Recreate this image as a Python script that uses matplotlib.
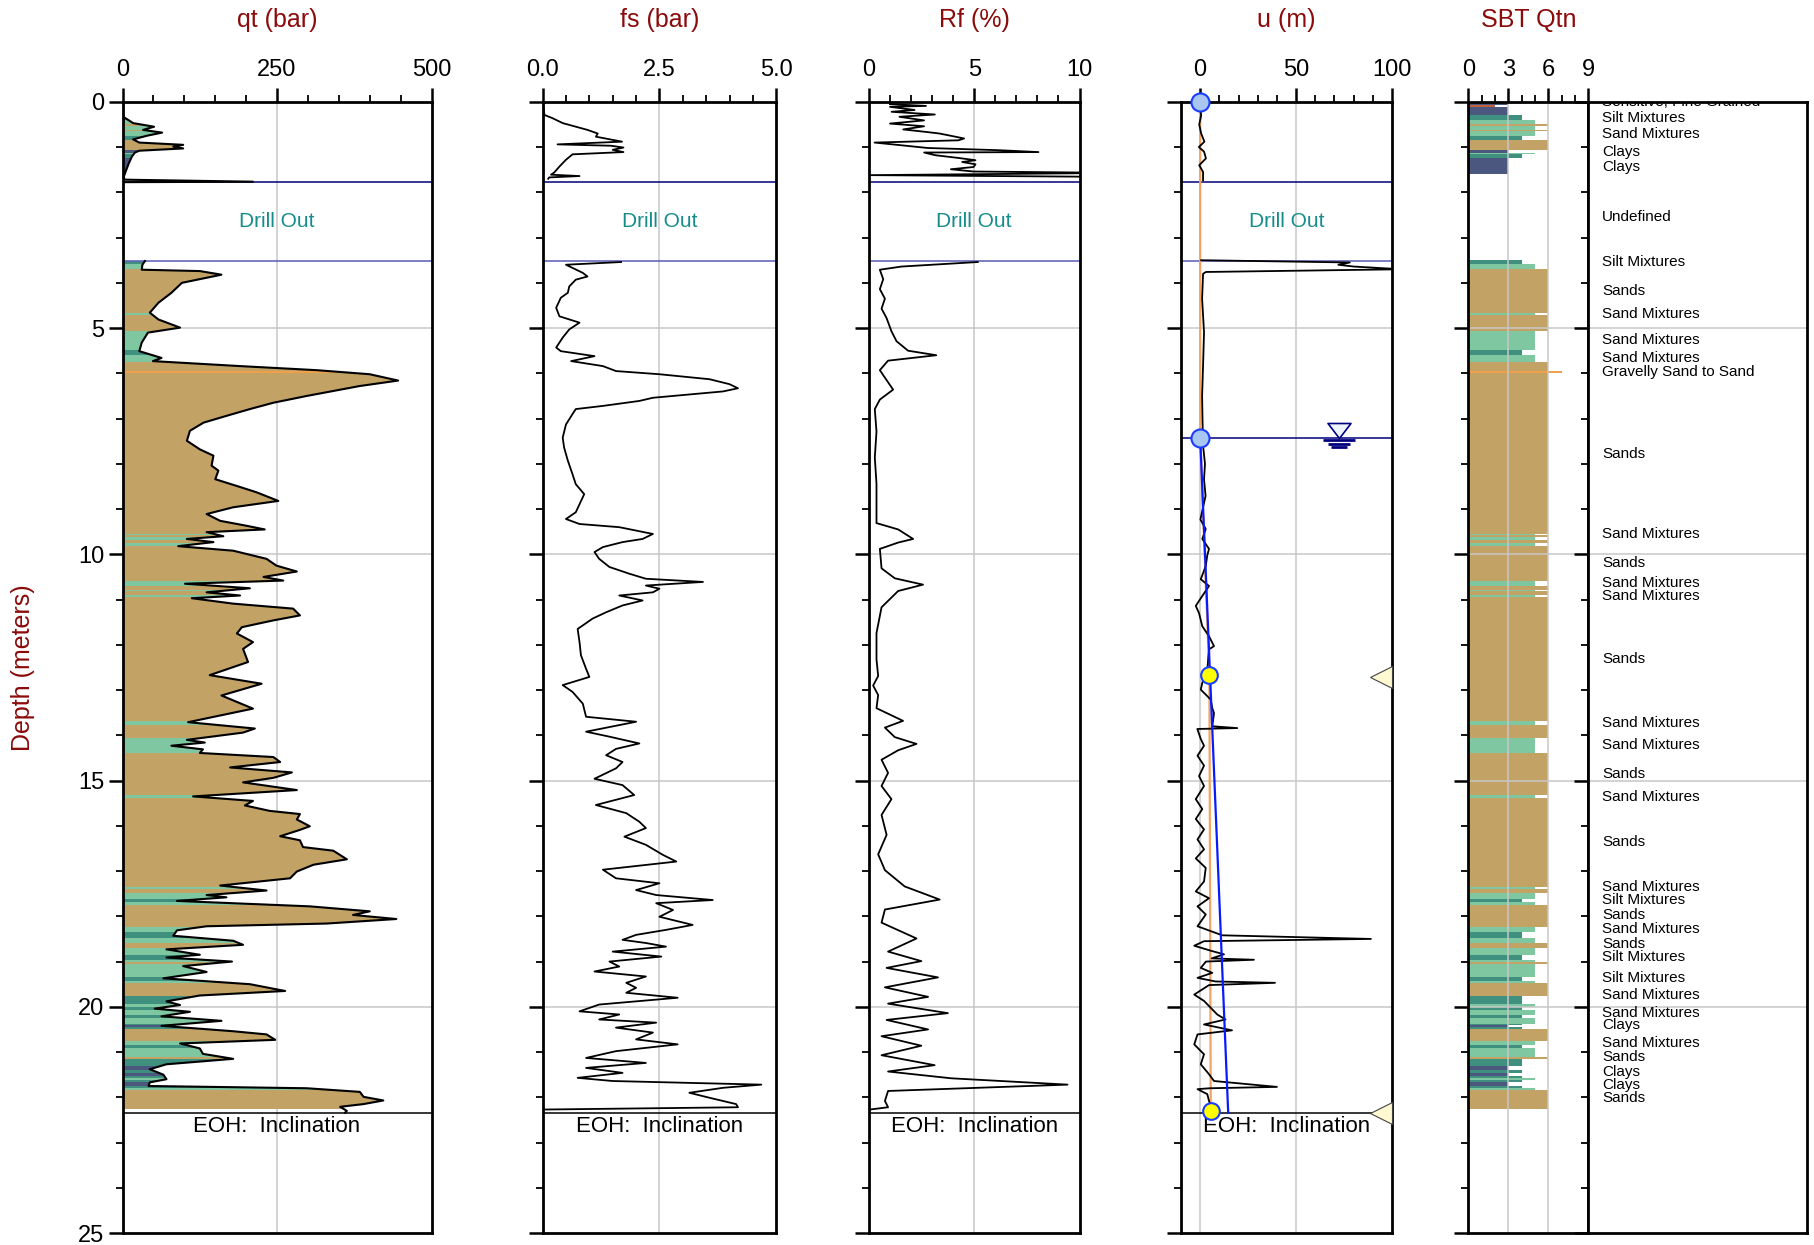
import numpy as np
import matplotlib
matplotlib.use('Agg')
import matplotlib.pyplot as plt
from matplotlib.path import Path
from matplotlib.ticker import FixedLocator, MultipleLocator, FormatStrFormatter

plt.rcParams['font.family'] = ['Liberation Sans', 'DejaVu Sans']

nan = np.nan

# ---- cone resistance qt (bar) vs depth (m); nan = drill-out gap
qt_depth = [0.00, 0.33, 0.47, 0.55, 0.62, 0.68, 0.75, 0.83, 0.90, 0.95, 0.99, 1.03, 1.08, 1.12, 1.21, 1.36,
            1.50, 1.65, 1.72, 1.765, 1.775, nan,
            3.52, 3.60, 3.71, 3.74, 3.82, 4.00, 4.22, 4.44, 4.66, 4.81, 4.99, 5.10, 5.32, 5.51, 5.66, 5.73,
            5.84, 5.93, 6.02, 6.16, 6.28, 6.39, 6.50, 6.65, 6.79, 6.94, 7.09, 7.27, 7.49, 7.68, 7.82, 8.04,
            8.15, 8.34, 8.49, 8.63, 8.82, 8.96, 9.11, 9.26, 9.37, 9.45, 9.51, 9.60, 9.66, 9.73, 9.82, 9.92,
            10.10, 10.25, 10.38, 10.50, 10.58, 10.65, 10.75, 10.84, 10.91, 10.97, 11.09, 11.20, 11.35, 11.46,
            11.61, 11.75, 11.94, 12.09, 12.38, 12.67, 12.86, 13.12, 13.41, 13.71, 13.85, 13.94, 14.10, 14.16,
            14.23, 14.31, 14.39, 14.48, 14.59, 14.71, 14.82, 14.94, 15.04, 15.21, 15.35, 15.45, 15.55, 15.67,
            15.74, 15.86, 16.01, 16.09, 16.23, 16.32, 16.47, 16.55, 16.74, 16.86, 17.01, 17.16, 17.32, 17.43,
            17.53, 17.58, 17.66, 17.78, 17.89, 17.97, 18.06, 18.16, 18.22, 18.31, 18.43, 18.54, 18.63, 18.73,
            18.85, 18.91, 19.00, 19.10, 19.23, 19.37, 19.50, 19.65, 19.75, 19.88, 19.96, 20.04, 20.11, 20.21,
            20.31, 20.42, 20.54, 20.61, 20.73, 20.81, 20.92, 21.04, 21.15, 21.27, 21.38, 21.50, 21.60, 21.67,
            21.75, 21.80, 21.88, 21.99, 22.07, 22.15, 22.21, 22.30, 22.34]
qt_value = [0, 1, 17, 51, 33, 64, 39, 17, 27, 98, 82, 98, 27, 20, 15, 10,
            6, 2, 3, 211, 3, nan,
            36, 32, 31, 125, 160, 96, 79, 58, 44, 58, 93, 41, 31, 27, 63, 49,
            190, 314, 400, 446, 384, 341, 298, 244, 206, 168, 131, 109, 104, 125, 147, 144,
            155, 150, 185, 217, 252, 179, 136, 158, 201, 230, 136, 163, 104, 147, 90, 179,
            233, 249, 282, 228, 260, 101, 206, 136, 190, 112, 179, 276, 287, 244,
            193, 185, 211, 195, 203, 141, 225, 160, 211, 106, 214, 195, 104, 133,
            79, 130, 125, 244, 255, 174, 274, 244, 195, 282, 114, 211, 198, 238,
            287, 282, 303, 287, 255, 287, 292, 341, 363, 309, 282, 271, 158, 233,
            136, 168, 88, 303, 400, 373, 443, 330, 136, 88, 82, 179, 195, 71,
            125, 71, 177, 98, 136, 66, 206, 263, 125, 71, 93, 52, 109, 63,
            160, 63, 179, 233, 247, 93, 125, 130, 179, 71, 44, 66, 71, 44,
            42, 298, 384, 390, 422, 390, 352, 363, 360]

# ---- sleeve friction fs (bar)
fs_depth = [0.00, 0.29, 0.36, 0.47, 0.55, 0.62, 0.70, 0.77, 0.84, 0.88, 0.94, 0.97, 1.01, 1.06, 1.11, 1.16,
            1.28, 1.43, 1.56, 1.61, 1.64, 1.67, 1.70, nan,
            3.54, 3.60, 3.67, 3.78, 3.86, 3.93, 4.08, 4.22, 4.33, 4.55, 4.74, 4.88, 5.03, 5.21, 5.43, 5.51,
            5.62, 5.73, 5.84, 5.95, 6.02, 6.13, 6.24, 6.33, 6.40, 6.46, 6.54, 6.61, 6.72, 6.79, 6.90, 7.13,
            7.42, 7.64, 7.93, 8.23, 8.45, 8.67, 8.89, 9.07, 9.22, 9.33, 9.40, 9.55, 9.66, 9.73, 9.84, 9.95,
            10.10, 10.28, 10.43, 10.54, 10.61, 10.69, 10.76, 10.84, 10.91, 11.02, 11.13, 11.28, 11.42, 11.65,
            11.94, 12.23, 12.53, 12.71, 12.89, 13.04, 13.30, 13.59, 13.70, 13.92, 14.03, 14.18, 14.30, 14.44,
            14.59, 14.73, 14.96, 15.10, 15.32, 15.54, 15.72, 15.91, 16.05, 16.24, 16.42, 16.64, 16.79, 16.97,
            17.16, 17.27, 17.42, 17.53, 17.64, 17.71, 17.86, 18.01, 18.19, 18.30, 18.41, 18.52, 18.59, 18.67,
            18.78, 18.89, 19.00, 19.11, 19.22, 19.33, 19.47, 19.58, 19.69, 19.80, 19.95, 20.10, 20.17, 20.28,
            20.35, 20.46, 20.57, 20.72, 20.83, 20.98, 21.13, 21.24, 21.35, 21.46, 21.57, 21.64, 21.72, 21.79,
            21.90, 22.01, 22.15, 22.22, 22.27]
fs_value = [0.0, 0.04, 0.21, 0.43, 0.71, 0.96, 1.18, 1.14, 1.50, 1.70, 0.32, 1.46, 1.73, 1.50, 1.73, 0.64,
            0.50, 0.36, 0.25, 0.18, 0.79, 0.14, 0.12, nan,
            1.68, 0.50, 0.64, 0.86, 0.96, 0.71, 0.57, 0.54, 0.39, 0.29, 0.36, 0.79, 0.57, 0.43, 0.29, 0.39,
            1.11, 0.61, 1.29, 1.57, 2.50, 3.57, 4.00, 4.18, 3.86, 3.21, 2.36, 2.07, 1.29, 0.71, 0.64, 0.50,
            0.43, 0.46, 0.54, 0.64, 0.71, 0.89, 0.79, 0.71, 0.50, 0.79, 1.64, 2.36, 2.14, 1.71, 1.29, 1.11,
            1.21, 1.43, 1.86, 2.21, 3.43, 2.21, 2.50, 2.36, 1.64, 2.14, 1.71, 1.36, 1.07, 0.75,
            0.79, 0.82, 0.93, 1.00, 0.43, 0.64, 0.86, 0.93, 2.00, 0.93, 1.43, 2.07, 1.57, 1.36,
            1.71, 1.57, 1.11, 1.71, 1.96, 1.14, 1.79, 2.07, 2.21, 1.75, 2.21, 2.57, 2.86, 1.29,
            1.57, 2.50, 2.00, 2.43, 3.64, 2.43, 2.79, 2.50, 3.21, 2.64, 2.00, 1.71, 2.21, 2.64,
            1.50, 2.54, 1.43, 1.64, 1.11, 2.21, 1.79, 2.00, 1.79, 2.89, 1.21, 0.79, 1.64, 1.21,
            2.43, 1.57, 2.36, 2.00, 2.89, 1.57, 0.93, 2.21, 0.93, 1.71, 0.75, 1.50, 4.68, 3.86,
            3.14, 3.57, 4.14, 4.18, 0.05]

# ---- friction ratio Rf (%)
rf_depth = [0.05, 0.09, 0.11, 0.18, 0.22, 0.28, 0.33, 0.41, 0.48, 0.54, 0.61, 0.66, 0.70, 0.75, 0.81, 0.85,
            0.90, 0.96, 1.02, 1.07, 1.11, 1.12, 1.18, 1.24, 1.29, 1.33, 1.38, 1.44, 1.49, 1.54, 1.57, 1.62,
            1.66, nan,
            3.54, 3.64, 3.71, 3.92, 4.14, 4.35, 4.57, 4.78, 5.07, 5.29, 5.50, 5.60, 5.72, 5.93, 6.15, 6.36,
            6.58, 6.79, 7.29, 7.86, 8.44, 9.02, 9.31, 9.45, 9.66, 9.74, 9.88, 10.31, 10.53, 10.67, 10.81,
            11.17, 11.74, 12.32, 12.69, 12.90, 13.11, 13.40, 13.68, 13.83, 14.04, 14.19, 14.33, 14.54, 14.83,
            15.12, 15.41, 15.76, 16.20, 16.63, 16.98, 17.34, 17.63, 17.85, 18.14, 18.49, 18.78, 18.99, 19.14,
            19.35, 19.57, 19.78, 19.93, 20.14, 20.29, 20.50, 20.65, 20.86, 21.07, 21.29, 21.43, 21.58, 21.72,
            21.86, 22.08, 22.22, 22.27]
rf_value = [1.0, 2.71, 1.0, 2.17, 1.08, 3.13, 1.45, 2.62, 1.0, 2.62, 1.63, 2.62, 3.35, 3.89, 4.52, 4.25,
            0.27, 1.54, 2.80, 6.24, 8.05, 2.62, 3.16, 4.25, 5.06, 4.43, 5.06, 4.97, 3.89, 4.97, 12.0, 0.09,
            12.0, nan,
            5.17, 1.55, 0.52, 0.68, 0.52, 0.76, 0.60, 0.84, 1.07, 1.31, 1.86, 3.20, 0.91, 0.52, 0.84, 1.15,
            0.52, 0.28, 0.36, 0.28, 0.36, 0.36, 0.36, 1.39, 2.10, 1.39, 0.52, 0.60, 1.23, 2.57, 1.39,
            0.60, 0.36, 0.36, 0.44, 0.20, 0.44, 0.36, 1.62, 0.76, 1.23, 2.26, 1.39, 0.60, 0.91,
            0.60, 1.07, 0.60, 0.84, 0.44, 0.76, 1.70, 3.36, 0.76, 0.60, 2.26, 0.91, 2.49, 0.84,
            3.28, 0.76, 2.81, 0.91, 3.75, 0.84, 2.81, 0.60, 2.49, 0.60, 3.12, 0.91, 3.91, 9.43,
            0.91, 0.76, 0.91, 0.05]

# ---- pore pressure u (m)
u_depth = [0.15, 0.30, 0.50, 0.70, 0.88, 1.00, 1.10, 1.25, 1.40, 1.55, 1.73, nan,
           3.50, 3.55, 3.60, 3.64, 3.70, 3.76, 3.80, 4.35, 5.09, 5.83, 6.50, 7.00, 7.60, 8.00, 8.34, 8.71,
           9.23, 9.44, 9.66, 9.88, 10.02, 10.26, 10.55, 10.70, 10.92, 11.14, 11.30, 11.59, 11.81, 12.03,
           12.10, 12.55, 12.84, 12.99, 13.21, 13.40, 13.51, 13.80, 13.84, 13.86, 14.08, 14.23, 14.45, 14.67,
           14.90, 15.12, 15.41, 15.63, 15.85, 16.08, 16.30, 16.52, 16.72, 16.93, 17.23, 17.45, 17.60, 17.78,
           17.96, 18.22, 18.42, 18.50, 18.55, 18.65, 18.76, 18.84, 18.93, 18.96, 19.00, 19.14, 19.25, 19.36,
           19.44, 19.47, 19.52, 19.73, 19.87, 20.17, 20.28, 20.39, 20.52, 20.61, 20.83, 21.05, 21.27, 21.49,
           21.64, 21.77, 21.80, 21.82, 21.93, 22.08, 22.19, 22.25]
u_value = [0.0, 0.5, -0.5, 0.5, 2.2, -0.7, 2.0, 3.0, -0.5, 1.5, 1.5, nan,
           0.5, 78, 72, 80, 105, 3.0, 1.5, 1.0, 2.0, 1.5, 1.0, 1.2, 1.5, 2.5, 2.0, 2.8,
           0.1, 2.9, 1.1, 4.6, 3.7, 2.9, 0.3, 4.6, 1.1, -2.3, -0.6, 1.1, 4.6, 7.2,
           4.6, 3.7, 1.1, 0.3, 5.5, 6.3, 7.2, 6.3, 19.3, -1.5, 0.3, 2.0, -1.4, 2.0,
           -0.6, 2.0, -2.3, 1.1, -2.3, 2.0, -1.4, 2.0, -2.3, 2.9, 2.0, -2.3, 4.6, -1.4,
           2.9, -1.4, 11.5, 89, 2.0, -3.1, 5.5, 12.4, 6.0, 28, 3.0, 0.3, 6.3, -1.4,
           8.0, 39, 4.6, -3.1, 2.0, 8.9, 13.2, 2.0, 16.6, -1.4, -3.1, 2.0, 0.3, 4.6,
           7.2, 40, 5.0, -1.4, 3.7, 4.6, 5.5, 6.0]

# equilibrium / hydrostatic pore pressure lines
ueq_depth = [0.0, 7.42, 12.67, 22.30]
ueq_value = [0.0, 0.0, 4.8, 5.5]
hydro_depth = [7.42, 22.34]
hydro_value = [0.0, 14.6]
water_table = 7.42
dissipation_depth = [12.67, 22.30]
dissipation_u = [4.6, 5.5]
dissipation_marks = [12.72, 22.35]

# ---- drill out and end of hole
drill_top, drill_base = 1.78, 3.52
eoh_depth = 22.34

# ---- SBT Qtn layers
sbt_top = [0.00, 0.08, 0.11, 0.30, 0.41, 0.48, 0.54, 0.63, 0.65, 0.75, 0.85, 1.07, 1.12, 1.16, 1.25,
           3.50, 3.59, 3.69, 4.67, 4.72, 5.07, 5.48, 5.60, 5.74, 5.94,
           5.99, 9.55, 9.57, 9.61, 9.68, 9.74, 9.82, 10.60, 10.70, 10.78,
           10.82, 10.91, 10.95, 13.68, 13.77, 14.06, 14.38, 15.33, 15.38, 17.35,
           17.39, 17.48, 17.61, 17.68, 17.74, 18.24, 18.35, 18.49, 18.59, 18.70,
           18.86, 18.96, 19.01, 19.05, 19.34, 19.43, 19.47, 19.76, 19.93, 20.00,
           20.08, 20.18, 20.25, 20.37, 20.40, 20.44, 20.50, 20.76, 20.85, 20.91,
           21.10, 21.16, 21.31, 21.40, 21.46, 21.53, 21.58, 21.61, 21.67, 21.76,
           21.80, 21.83]
sbt_base = [0.08, 0.11, 0.30, 0.41, 0.48, 0.54, 0.63, 0.65, 0.75, 0.85, 1.07, 1.12, 1.16, 1.25, 1.59,
            3.59, 3.69, 4.67, 4.72, 5.07, 5.48, 5.60, 5.74, 5.94, 5.99,
            9.55, 9.57, 9.61, 9.68, 9.74, 9.82, 10.60, 10.70, 10.78, 10.82,
            10.91, 10.95, 13.68, 13.77, 14.06, 14.38, 15.33, 15.38, 17.35, 17.39,
            17.48, 17.61, 17.68, 17.74, 18.24, 18.35, 18.49, 18.59, 18.70, 18.86,
            18.96, 19.01, 19.05, 19.34, 19.43, 19.47, 19.76, 19.93, 20.00, 20.08,
            20.18, 20.25, 20.37, 20.40, 20.44, 20.50, 20.76, 20.85, 20.91, 21.10,
            21.16, 21.31, 21.40, 21.46, 21.53, 21.58, 21.61, 21.67, 21.76, 21.80,
            21.83, 22.26]
sbt_zone = [3, 2, 3, 4, 5, 6, 5, 6, 5, 4, 6, 3, 5, 4, 3,
            4, 5, 6, 5, 6, 5, 4, 5, 6, 7,
            6, 5, 6, 5, 6, 5, 6, 5, 6, 5,
            6, 5, 6, 5, 6, 5, 6, 5, 6, 5,
            6, 5, 4, 5, 6, 5, 4, 5, 6, 5,
            4, 5, 6, 5, 4, 5, 6, 4, 5, 4,
            5, 4, 5, 4, 3, 4, 6, 5, 4, 5,
            6, 4, 3, 4, 3, 4, 5, 4, 3, 4,
            5, 6]

sbt_label_depth = [0.0, 0.36, 0.71, 1.10, 1.43, 2.55, 3.55, 4.18, 4.69, 5.26, 5.66, 5.97, 7.78, 9.54,
                   10.20, 10.64, 10.92, 12.32, 13.72, 14.21, 14.85, 15.36, 16.35, 17.35, 17.63, 17.96,
                   18.27, 18.62, 18.90, 19.36, 19.74, 20.13, 20.41, 20.79, 21.12, 21.45, 21.73, 22.02]
sbt_label_text = ['Sensitive, Fine Grained', 'Silt Mixtures', 'Sand Mixtures', 'Clays', 'Clays', 'Undefined',
                  'Silt Mixtures', 'Sands', 'Sand Mixtures', 'Sand Mixtures', 'Sand Mixtures',
                  'Gravelly Sand to Sand', 'Sands', 'Sand Mixtures', 'Sands', 'Sand Mixtures',
                  'Sand Mixtures', 'Sands', 'Sand Mixtures', 'Sand Mixtures', 'Sands', 'Sand Mixtures',
                  'Sands', 'Sand Mixtures', 'Silt Mixtures', 'Sands', 'Sand Mixtures', 'Sands',
                  'Silt Mixtures', 'Silt Mixtures', 'Sand Mixtures', 'Sand Mixtures', 'Clays',
                  'Sand Mixtures', 'Sands', 'Clays', 'Clays', 'Sands']

SBT_COLORS = {2: '#c0603c', 3: '#4b577f', 4: '#40907f', 5: '#7fc7a1', 6: '#c2a365', 7: '#f0a04b'}
GRID = '#c8c8c8'
TITLE = '#8b0a0a'
TEAL = '#168c8c'

fig = plt.figure(figsize=(18.14, 12.45), dpi=100)
BOT, HGT = 0.0096, 0.9086
ax_qt = fig.add_axes([0.06759, BOT, 0.17029, HGT])
ax_fs = fig.add_axes([0.29912, BOT, 0.12883, HGT])
ax_rf = fig.add_axes([0.47900, BOT, 0.11610, HGT])
ax_u = fig.add_axes([0.65105, BOT, 0.11632, HGT])
ax_sbt = fig.add_axes([0.80943, BOT, 0.06615, HGT])
ax_lb = fig.add_axes([0.87558, BOT, 0.12040, HGT])


def setup(ax, xlim, major, minor, grid_x, title, fmt=None):
    ax.set_xlim(*xlim)
    ax.set_ylim(25, 0)
    ax.xaxis.tick_top()
    ax.xaxis.set_major_locator(FixedLocator(major))
    ax.xaxis.set_minor_locator(FixedLocator(minor))
    if fmt:
        ax.xaxis.set_major_formatter(FormatStrFormatter(fmt))
    ax.yaxis.set_major_locator(MultipleLocator(5))
    ax.yaxis.set_minor_locator(MultipleLocator(1))
    ax.tick_params(which='major', direction='out', length=10, width=1.8, labelsize=17, pad=5)
    ax.tick_params(which='minor', direction='out', length=5, width=1.3)
    ax.tick_params(axis='y', labelleft=False)
    for sp in ax.spines.values():
        sp.set_linewidth(2.0)
    for g in grid_x:
        ax.axvline(g, color=GRID, lw=1.1, zorder=0.5)
    for d in (5, 10, 15, 20):
        ax.axhline(d, color=GRID, lw=1.1, zorder=0.5)
    ax.text(0.5, 1.0721, title, transform=ax.transAxes, ha='center', va='center',
            fontsize=18, color=TITLE)


def drill_and_eoh(ax, xmid):
    ax.axhline(drill_top, color='#00007f', lw=1.1, zorder=2)
    ax.axhline(drill_base, color='#5a5ab8', lw=1.1, zorder=2)
    ax.text(xmid, (drill_top + drill_base) / 2, 'Drill Out', ha='center', va='center',
            fontsize=15, color=TEAL)
    ax.axhline(eoh_depth, color='k', lw=1.1, zorder=2)
    ax.text(xmid, eoh_depth + 0.3, 'EOH:  Inclination', ha='center', va='center', fontsize=16)


# qt panel with SBT-coloured fill
setup(ax_qt, (0, 500), [0, 250, 500], np.arange(0, 501, 50), [250], 'qt (bar)')
ax_qt.tick_params(axis='y', labelleft=True, labelsize=17, pad=3)
qt_d = np.array(qt_depth)
qt_v = np.array(qt_value)
fill = ax_qt.fill_betweenx(qt_d, 0, qt_v, facecolor='none', edgecolor='none')
clip = Path.make_compound_path(*fill.get_paths())
for top, base, z in zip(sbt_top, sbt_base, sbt_zone):
    bars = ax_qt.barh((top + base) / 2, 500, height=base - top, left=0,
                      color=SBT_COLORS[z], linewidth=0, zorder=1)
    bars.patches[0].set_clip_path(clip, ax_qt.transData)
ax_qt.plot(qt_v, qt_d, color='k', lw=1.5, zorder=3)
ax_qt.set_xlim(0, 500)
drill_and_eoh(ax_qt, 250)

# fs panel
setup(ax_fs, (0, 5), [0, 2.5, 5], np.arange(0, 5.01, 0.5), [2.5], 'fs (bar)', fmt='%.1f')
ax_fs.plot(fs_value, fs_depth, color='k', lw=1.3, zorder=3)
drill_and_eoh(ax_fs, 2.5)

# Rf panel
setup(ax_rf, (0, 10), [0, 5, 10], np.arange(0, 11, 1), [5], 'Rf (%)')
ax_rf.plot(rf_value, rf_depth, color='k', lw=1.3, zorder=3)
drill_and_eoh(ax_rf, 5)

# u panel
setup(ax_u, (-10, 100), [0, 50, 100], np.arange(0, 101, 10), [0, 50], 'u (m)')
ax_u.plot(ueq_value, ueq_depth, color='#f4a460', lw=1.6, zorder=2.5)
ax_u.plot(u_value, u_depth, color='k', lw=1.3, zorder=3)
ax_u.plot(hydro_value, hydro_depth, color='#0a1aff', lw=1.6, zorder=3.5)
ax_u.axhline(water_table, color='#00007f', lw=1.1, zorder=2)
ax_u.plot([0, 0], [0, water_table], ls='none', marker='o', ms=13, mfc='#a9c6f0', mec='#1a3cff',
          mew=1.5, zorder=5, clip_on=False)
ax_u.plot(dissipation_u, dissipation_depth, ls='none', marker='o', ms=12, mfc='#ffff00',
          mec='#1a3cff', mew=1.5, zorder=5, clip_on=False)
ax_u.plot([94.3] * len(dissipation_marks), dissipation_marks, ls='none', marker='<', ms=15.6,
          mfc='#fff8d0', mec='#444444', mew=0.8, zorder=5, clip_on=False)
tri = Path([(-11.5, 15), (11.5, 15), (0, 0), (-11.5, 15)],
           [Path.MOVETO, Path.LINETO, Path.LINETO, Path.CLOSEPOLY])
bars3 = Path([(-16, -2), (16, -2), (-11.5, -6), (11.5, -6), (-8, -9.5), (8, -9.5)],
             [Path.MOVETO, Path.LINETO] * 3)
ax_u.plot([72.6], [water_table], ls='none', marker=tri, ms=21.6, mfc='#eef4ff', mec='#00007f',
          mew=1.2, zorder=5)
ax_u.plot([72.6], [water_table], ls='none', marker=bars3, ms=23, mec='#00007f', mew=2.0, zorder=5)
drill_and_eoh(ax_u, 45)

# SBT Qtn bars
setup(ax_sbt, (0, 9), [0, 3, 6, 9], np.arange(0, 10, 1), [3, 6], 'SBT Qtn')
ax_sbt.set_axisbelow(False)
ax_sbt.barh([(t + b) / 2 for t, b in zip(sbt_top, sbt_base)], sbt_zone,
            height=[b - t for t, b in zip(sbt_top, sbt_base)], left=0,
            color=[SBT_COLORS[z] for z in sbt_zone], linewidth=0, zorder=0.3)
ax_sbt.set_xlim(0, 9)

# SBT label column
ax_lb.set_xlim(0, 1)
ax_lb.set_ylim(25, 0)
ax_lb.set_xticks([])
ax_lb.yaxis.set_major_locator(MultipleLocator(5))
ax_lb.yaxis.set_minor_locator(MultipleLocator(1))
ax_lb.tick_params(which='major', direction='out', length=10, width=1.8, labelleft=False)
ax_lb.tick_params(which='minor', direction='out', length=5, width=1.3)
for sp in ax_lb.spines.values():
    sp.set_linewidth(2.0)
for d in (5, 10, 15, 20):
    ax_lb.axhline(d, color=GRID, lw=1.1, zorder=0.5)
for d, txt in zip(sbt_label_depth, sbt_label_text):
    ax_lb.text(0.064, d, txt, ha='left', va='center', fontsize=11, clip_on=True)

fig.text(0.0127, 0.4638, 'Depth (meters)', rotation=90, ha='center', va='center',
         fontsize=18, color=TITLE)

fig.savefig('out.png', dpi=100)
